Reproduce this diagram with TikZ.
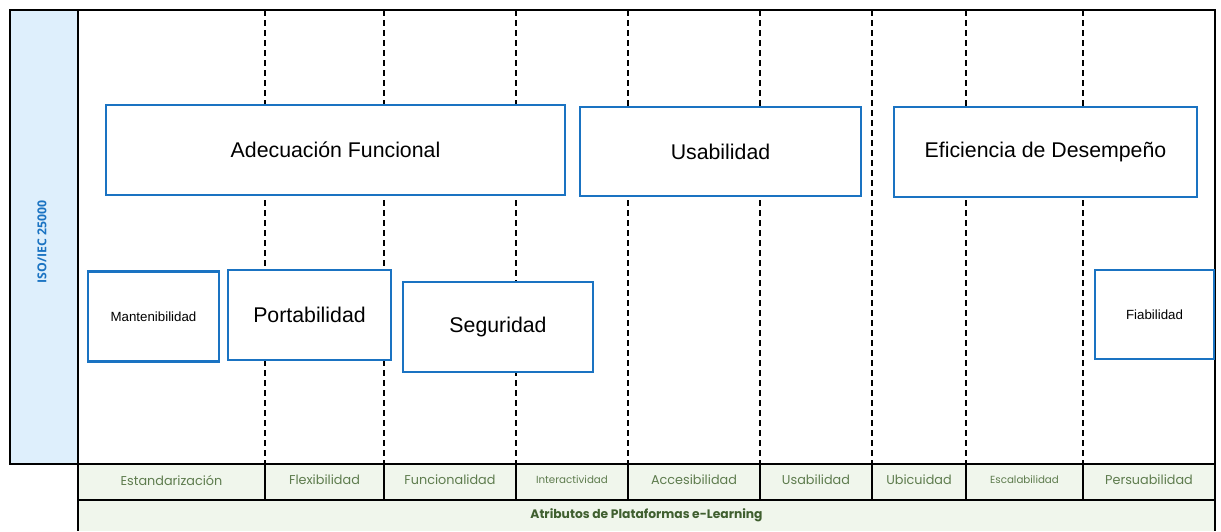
\documentclass[tikz,border=0pt]{standalone}
\usepackage{fontspec}
\setmainfont{Liberation Sans}
\newfontfamily\attrfont{Poppins}
\newfontfamily\isofont{Open Sans}
\definecolor{cajaazul}{HTML}{1A73C2}
\definecolor{isofondo}{HTML}{DEEFFC}
\definecolor{attrfondo}{HTML}{F0F6EC}
\definecolor{attrtexto}{HTML}{5E7C4E}
\definecolor{titulotexto}{HTML}{3F5F2F}

\begin{document}
\begin{tikzpicture}[x=1pt, y=-1pt, line width=2pt, every node/.style={inner sep=0pt},
	caja/.style={draw=cajaazul, line width=2.2pt, fill=white, align=center},
	grande/.style={font=\fontsize{21.3}{25}\selectfont},
	chica/.style={font=\fontsize{13.3}{16}\selectfont},
	atributo/.style={text=attrtexto}]
	\useasboundingbox (0,0) rectangle (1221,531);
	\fill[isofondo] (10,10) rectangle (78,464);
	\fill[attrfondo] (78,464) rectangle (1215,531);
	\foreach \xd in {265,384,516,628,760,872,966,1083}
		\draw[dash pattern=on 6pt off 4pt] (\xd,10) -- (\xd,464);
	\draw (10,10) rectangle (1215,464);
	\draw (78,10) -- (78,531);
	\draw (1215,464) -- (1215,531);
	\draw (78,500) -- (1215,500);
	\foreach \xd in {265,384,516,628,760,872,966,1083}
		\draw (\xd,464) -- (\xd,500);
	\node[rotate=90, text=cajaazul, font=\isofont\bfseries\fontsize{12.3}{14}\selectfont] (iso) at (42,242) {ISO/IEC 25000};
	% caracteristicas de calidad
	\node[caja, grande, minimum width=459pt, minimum height=90pt] (adecuacion) at (335.5,150) {Adecuación Funcional};
	\node[caja, grande, minimum width=281pt, minimum height=89pt] (usabilidad) at (720.5,151.5) {Usabilidad};
	\node[caja, grande, minimum width=303pt, minimum height=90pt] (eficiencia) at (1045.5,152) {Eficiencia de Desempeño};
	\node[caja, chica, minimum width=131pt, minimum height=90pt] (mantenibilidad) at (153.5,316.5) {Mantenibilidad};
	\node[caja, grande, minimum width=163pt, minimum height=90pt] (portabilidad) at (309.5,315) {Portabilidad};
	\node[caja, grande, minimum width=190pt, minimum height=90pt] (seguridad) at (498,327) {Seguridad};
	\node[caja, chica, minimum width=119pt, minimum height=89pt] (fiabilidad) at (1154.5,314.5) {Fiabilidad};
	% atributos
	\foreach \xa/\xb/\nombre/\tam [count=\i] in {78/265/Estandarización/12.8, 265/384/Flexibilidad/12.8, 384/516/Funcionalidad/12.8, 516/628/Interactividad/10.3, 628/760/Accesibilidad/12.8, 760/872/Usabilidad/12.8, 872/966/Ubicuidad/12.8, 966/1083/Escalabilidad/10.3, 1083/1215/Persuabilidad/12.8}
		\node[atributo, font=\attrfont\fontsize{\tam}{15}\selectfont] (attr-\i) at ({(\xa+\xb)/2},480) {\nombre};
	\node[text=titulotexto, font=\attrfont\bfseries\fontsize{12.3}{14}\selectfont] (titulo) at (646.5,515) {Atributos de Plataformas e-Learning};
\end{tikzpicture}
\end{document}
